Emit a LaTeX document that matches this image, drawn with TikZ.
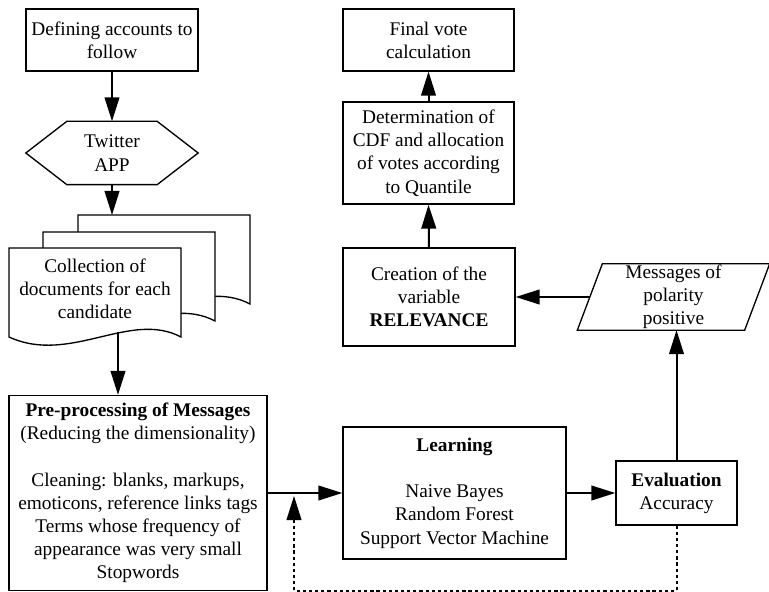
\documentclass[tikz,border=0pt]{standalone}
\usepackage{fontspec}
\setmainfont{Liberation Serif}
\usetikzlibrary{shapes.geometric, calc, arrows.meta, positioning}

\tikzset{
  box/.style={draw, line width=1pt, align=center, inner sep=0pt,
    font=\fontsize{14.5}{17.4}\selectfont},
  shapetext/.style={box, draw=none},
  sheet/.style={draw, fill=white, line width=1pt},
  flow/.style={line width=1.5pt, -{Triangle[length=18pt,width=11pt]}},
  fback/.style={flow, dash pattern=on 2.4pt off 2.2pt},
}

\begin{document}
\begin{tikzpicture}[x=0.75pt, y=-0.75pt]
        \useasboundingbox (0,0) rectangle (769,592);

        % Left column
        \node[box, minimum width=129pt, minimum height=46.5pt] (def) at (112,40) {Defining accounts to\\follow};
        \node[shapetext, minimum width=128.25pt, minimum height=46.5pt] (tw) at (112,153) {Twitter\\APP};
        \draw[line width=1pt] (tw.west) -- ($(tw.north west)+(41,0)$) -- ($(tw.north east)+(-41,0)$)
          -- (tw.east) -- ($(tw.south east)+(-41,0)$) -- ($(tw.south west)+(41,0)$) -- cycle;

        % Stack of documents
        \foreach \dx/\dy in {69/-33, 34/-16, 0/0}
          \draw[sheet] (9+\dx,248+\dy) -- (181+\dx,248+\dy) -- (181+\dx,337+\dy)
            .. controls (130+\dx,310+\dy) and (70+\dx,365+\dy) .. (9+\dx,337+\dy) -- cycle;
        \node[shapetext] (docs) at (95,289) {Collection of\\documents for each\\candidate};
        \coordinate (docin) at (112,215);
        \coordinate (docout) at (118,332);

        % Bottom row
        \node[box, minimum width=193.5pt, minimum height=146.25pt] (pre) at (138,493)
          {\textbf{Pre-processing of Messages}\\(Reducing the dimensionality)\\[17.4pt]
           Cleaning: blanks, markups,\\emoticons, reference links tags\\Terms whose frequency of\\
           appearance was very small\\Stopwords};
        \node[box, minimum width=167.25pt, minimum height=99pt] (learn) at (454.5,493)
          {\textbf{Learning}\\[17.4pt]Naive Bayes\\Random Forest\\Support Vector Machine};
        \node[box, minimum width=90.75pt, minimum height=48pt] (eval) at (676.5,493)
          {\textbf{Evaluation}\\Accuracy};
        \coordinate (join) at (294,496);

        % Right column
        \node[shapetext, minimum width=124.5pt, minimum height=48.75pt] (msg) at (673.5,297)
          {Messages of\\polarity\\positive};
        \draw[line width=1pt] ($(msg.south west)+(-12.5,0)$) -- ($(msg.south east)+(-12.5,0)$)
          -- ($(msg.north east)+(12.5,0)$) -- ($(msg.north west)+(12.5,0)$) -- cycle;
        \node[box, minimum width=129pt, minimum height=73.5pt] (rel) at (429,297)
          {Creation of the\\variable\\\textbf{RELEVANCE}};
        \node[box, minimum width=128.25pt, minimum height=76.5pt] (cdf) at (428.5,153)
          {Determination of\\CDF and allocation\\of votes according\\to Quantile};
        \node[box, minimum width=128.25pt, minimum height=46.5pt] (final) at (428.5,40)
          {Final vote\\calculation};

        % Connectors
        \draw[flow] (def.south) -- (tw.north);
        \draw[flow] (tw.south) -- (docin);
        \draw[flow] (docout) -- (docout |- pre.north);
        \draw[flow] (pre.east) -- (learn.west);
        \draw[flow] (learn.east) -- (eval.west);
        \draw[flow] (eval.north) -- (eval.north |- msg.south);
        \draw[flow] (msg.west) -- (msg.west -| rel.east);
        \draw[flow] (rel.north) -- (cdf.south);
        \draw[flow] (cdf.north) -- (final.south);

        % Feedback
        \draw[fback] (eval.south) -- ++(0,65) -| (join);
\end{tikzpicture}
\end{document}
